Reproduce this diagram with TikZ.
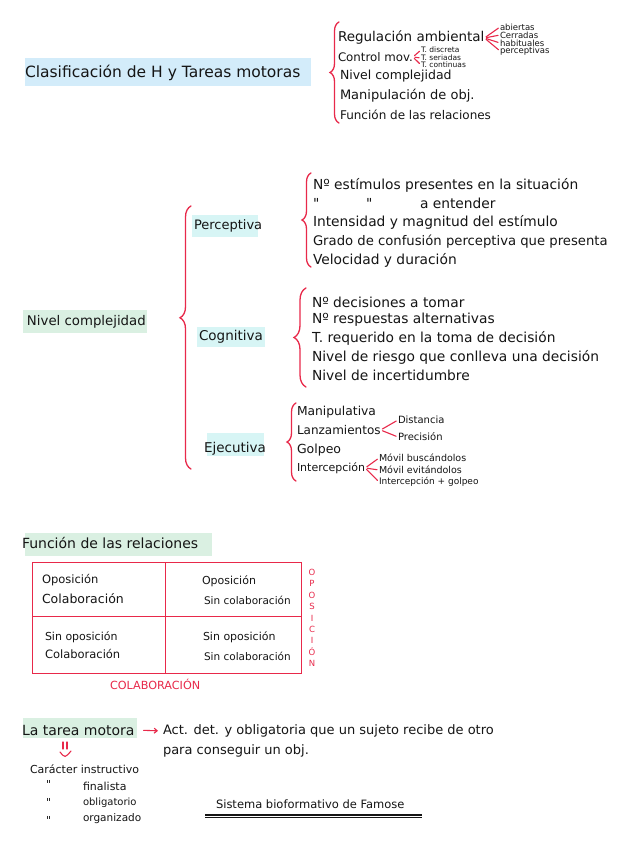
\documentclass[tikz,border=0pt]{standalone}
\usepackage{fontspec}
\setmainfont{DejaVu Sans}
\usetikzlibrary{decorations.pathreplacing,arrows.meta}
\definecolor{ink}{HTML}{151515}
\definecolor{redpen}{HTML}{E8294A}
\definecolor{hlblue}{HTML}{D3ECFA}
\definecolor{hlgreen}{HTML}{DAF0E2}
\definecolor{hlcyan}{HTML}{D7F5F5}
\newcommand{\dit}{\textquotedbl}
\begin{document}
\begin{tikzpicture}[x=1pt,y=-1pt,
  every node/.style={inner sep=0pt, outer sep=0pt, text=ink},
  lbl/.style={anchor=west, font=\fontsize{#1}{#1}\selectfont},
  rlbl/.style={anchor=west, text=redpen, font=\fontsize{#1}{#1}\selectfont},
  rbrace/.style={draw=redpen, line width=1.3pt, line cap=round, decorate, decoration={brace, amplitude=#1}},
  rline/.style={draw=redpen, line width=1.1pt, line cap=round},
  fan/.style={rline, shorten <=2pt, shorten >=2pt},
  tbl/.style={draw=redpen, line width=1pt},
  item/.style={lbl=13.8}
]
\useasboundingbox (0,0) rectangle (621,848);
\fill[white] (0,0) rectangle (621,848);

% highlights
\fill[hlblue] (25,58) rectangle (311,86);
\fill[hlgreen] (23,310) rectangle (147,333);
\fill[hlcyan] (192,215) rectangle (258,237);
\fill[hlcyan] (197,327) rectangle (265,347);
\fill[hlcyan] (207,433) rectangle (264,456);
\fill[hlgreen] (25,533) rectangle (212,556);
\fill[hlgreen] (23,718) rectangle (137,738);

% ---------- Section 1 ----------
\node[lbl=15.5] (title) at (25,73) {Clasificación de H y Tareas motoras};
\coordinate (b1top) at (339,22);
\coordinate (b1bot) at (339,123);
\draw[rbrace=9pt] (b1bot) -- (b1top);
\node[lbl=13.5] (regamb) at (338,38) {Regulación ambiental};
\node[lbl=11.8] (ctrl) at (338,57) {Control mov.};
\node[lbl=12.5] (nivc) at (340,76) {Nivel complejidad};
\node[lbl=13] (manip) at (340,96) {Manipulación de obj.};
\node[lbl=12] (funrel) at (340,115) {Función de las relaciones};

\node[lbl=8.5] (abi) at (500,27) {abiertas};
\node[lbl=8.5] (cer) at (500,35) {Cerradas};
\node[lbl=8.5] (hab) at (500,43) {habituales};
\node[lbl=8.5] (per) at (500,51) {perceptivas};
\foreach \t in {abi,cer,hab,per} \draw[fan] (regamb.east) -- (\t.west);

\node[lbl=7.5] (td) at (421,50) {T. discreta};
\node[lbl=7.5] (ts) at (421,58) {T. seriadas};
\node[lbl=7.5] (tc) at (421,65) {T. continuas};
\foreach \t in {td,ts,tc} \draw[fan] (ctrl.east) -- (\t.west);

% ---------- Section 2 ----------
\node[lbl=13.3] (nivel) at (27,322) {Nivel complejidad};
\coordinate (bigtop) at (191,206);
\coordinate (bigbot) at (191,469);
\draw[rbrace=11pt, decoration={aspect=0.575}] (bigbot) -- (bigtop);

\node[lbl=13] (perc) at (194,226) {Perceptiva};
\coordinate (bptop) at (311,173);
\coordinate (bpbot) at (311,267);
\draw[rbrace=9pt] (bpbot) -- (bptop);
\node[item] (p1) at (313,185) {Nº estímulos presentes en la situación};
\node[item] (p2a) at (313,203) {\dit};
\node[item] (p2b) at (366,203) {\dit};
\node[item] (p2c) at (420,203) {a entender};
\node[item] (p3) at (313,222) {Intensidad y magnitud del estímulo};
\node[lbl=13.2] (p4) at (313,242) {Grado de confusión perceptiva que presenta};
\node[item] (p5) at (313,260) {Velocidad y duración};

\node[lbl=13.5] (cogn) at (199,337) {Cognitiva};
\coordinate (bctop) at (306,288);
\coordinate (bcbot) at (306,387);
\draw[rbrace=12pt] (bcbot) -- (bctop);
\node[item] (c1) at (312,302) {Nº decisiones a tomar};
\node[item] (c2) at (312,320) {Nº respuestas alternativas};
\node[item] (c3) at (312,338) {T. requerido en la toma de decisión};
\node[item] (c4) at (312,357) {Nivel de riesgo que conlleva una decisión};
\node[item] (c5) at (312,375) {Nivel de incertidumbre};

\node[lbl=13.5] (ejec) at (204,449) {Ejecutiva};
\coordinate (betop) at (296,403);
\coordinate (bebot) at (296,481);
\draw[rbrace=9pt] (bebot) -- (betop);
\node[lbl=12.3] (e1) at (297,412) {Manipulativa};
\node[lbl=12] (e2) at (297,430) {Lanzamientos};
\node[lbl=12.5] (e3) at (297,450) {Golpeo};
\node[lbl=11] (e4) at (297,468) {Intercepción};

\node[lbl=10] (dist) at (398,420) {Distancia};
\node[lbl=10] (prec) at (398,437) {Precisión};
\foreach \t in {dist,prec} \draw[fan] (e2.east) -- (\t.west);

\node[lbl=9.5] (mb) at (379,458) {Móvil buscándolos};
\node[lbl=9.5] (me) at (379,470) {Móvil evitándolos};
\node[lbl=9] (ig) at (379,482) {Intercepción + golpeo};
\foreach \t in {mb,me,ig} \draw[fan] (e4.east) -- (\t.west);

% ---------- Section 3 ----------
\node[lbl=14] (funtit) at (22,543) {Función de las relaciones};
\coordinate (tl) at (32,562);
\coordinate (br) at (301,673);
\draw[tbl] (tl) rectangle (br);
\draw[tbl] (165,562) -- (165,673);
\draw[tbl] (32,616) -- (301,616);
\node[lbl=11.5] (q1a) at (42,580) {Oposición};
\node[lbl=12.5] (q1b) at (42,599) {Colaboración};
\node[lbl=11] (q2a) at (202,581) {Oposición};
\node[lbl=10.5] (q2b) at (204,600) {Sin colaboración};
\node[lbl=11] (q3a) at (45,637) {Sin oposición};
\node[lbl=11.5] (q3b) at (45,654) {Colaboración};
\node[lbl=11] (q4a) at (203,637) {Sin oposición};
\node[lbl=10.5] (q4b) at (204,656) {Sin colaboración};
\node[text=redpen, align=center, font=\fontsize{8.5}{11.4}\selectfont] (opos) at (312,618) {O\\P\\O\\S\\I\\C\\I\\Ó\\N};
\node[rlbl=11.2] (colab) at (110,684) {COLABORACIÓN};

% ---------- Section 4 ----------
\node[lbl=14] (tarea) at (22,730) {La tarea motora};
\node[lbl=13] (act) at (163,731) {Act. det. y obligatoria que un sujeto recibe de otro};
\node[lbl=13] (act2) at (163,751) {para conseguir un obj.};
\draw[rline, -{Straight Barb[length=3pt,width=5pt]}, shorten <=9pt, shorten >=5pt] (tarea.east) -- (act.west);

\coordinate (dar) at (65,742);
\draw[rline] ([xshift=-2pt]dar) -- ++(0,7);
\draw[rline] ([xshift=2pt]dar) -- ++(0,7);
\draw[rline] ([xshift=-5pt,yshift=-10pt]dar) .. controls ([xshift=0pt,yshift=-16pt]dar) .. ([xshift=6pt,yshift=-9pt]dar);

\node[lbl=11] (car) at (30,769) {Carácter instructivo};
\node[lbl=11] (d1) at (46,784) {\dit};
\node[lbl=11] (d2) at (46,802) {\dit};
\node[lbl=11] (d3) at (46,820) {\dit};
\node[lbl=11] (fin) at (83,786) {finalista};
\node[lbl=10] (obl) at (83,803) {obligatorio};
\node[lbl=10.5] (org) at (83,819) {organizado};

\node[lbl=11.5] (famose) at (216,804) {Sistema bioformativo de Famose};
\coordinate (ul1) at (205,815);
\coordinate (ul2) at (422,815);
\draw[draw=ink, line width=1.2pt] (ul1) -- (ul2);
\draw[draw=ink, line width=0.8pt] ([yshift=-2.5pt]ul1) -- ([yshift=-2.5pt]ul2);
\end{tikzpicture}
\end{document}
